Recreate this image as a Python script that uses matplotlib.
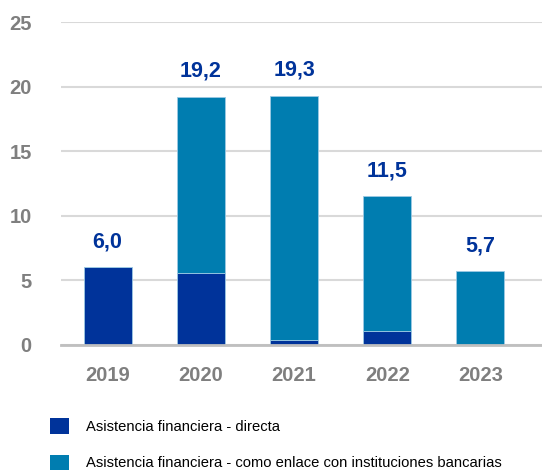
import numpy as np
import matplotlib.pyplot as plt
from matplotlib.patches import Patch

# Data
years = ["2019", "2020", "2021", "2022", "2023"]
directa = [6.0, 5.6, 0.4, 1.1, 0.0]
enlace = [0.0, 13.6, 18.9, 10.4, 5.7]
totals = ["6,0", "19,2", "19,3", "11,5", "5,7"]
legend_labels = [
    "Asistencia financiera - directa",
    "Asistencia financiera - como enlace con instituciones bancarias",
]

C_DIR = "#00339a"
C_ENL = "#007db0"

plt.rcParams["font.family"] = ["Liberation Sans", "DejaVu Sans"]

fig = plt.figure(figsize=(5.42, 4.76), dpi=100)
ax = fig.add_axes([61 / 542, 1 - 345 / 476, 1 - 61 / 542, (345 - 22) / 476])

x = np.arange(len(years))
w = 0.515
ax.bar(x, directa, w, color=C_DIR, edgecolor="#9cc9e3", linewidth=0.6, zorder=3)
ax.bar(x, enlace, w, bottom=directa, color=C_ENL, edgecolor="#9cc9e3",
       linewidth=0.6, zorder=3)

for xi, d, e, lab in zip(x, directa, enlace, totals):
    ax.annotate(lab, (xi, d + e), xytext=(0, 11), textcoords="offset points",
                ha="center", va="bottom", fontsize=15.5, fontweight="bold",
                color=C_DIR)

ax.set_xlim(-0.5, 4.66)
ax.set_ylim(0, 25)
ax.set_yticks([0, 5, 10, 15, 20, 25])
ax.set_xticks(x)
ax.set_xticklabels(years)
ax.yaxis.grid(True, color="#d9d9d9", linewidth=1.5, zorder=0)
ax.set_axisbelow(True)
for s in ["top", "right", "left"]:
    ax.spines[s].set_visible(False)
ax.spines["bottom"].set_color("#bfbfbf")
ax.spines["bottom"].set_linewidth(2)
ax.spines["bottom"].set_zorder(4)
ax.tick_params(axis="both", length=0, labelsize=14.5, labelcolor="#7f7f7f")
ax.tick_params(axis="y", pad=21)
ax.tick_params(axis="x", pad=15)
for t in ax.get_xticklabels() + ax.get_yticklabels():
    t.set_fontweight("bold")

handles = [Patch(facecolor=C_DIR), Patch(facecolor=C_ENL)]
fig.legend(handles, legend_labels, loc="upper left",
           bbox_to_anchor=(40 / 542, 1 - 408 / 476), frameon=False,
           fontsize=10.6, handlelength=1.25, handleheight=1.25,
           handletextpad=1.2, labelspacing=1.4, borderpad=0.2)

fig.savefig("out.png", dpi=100)
